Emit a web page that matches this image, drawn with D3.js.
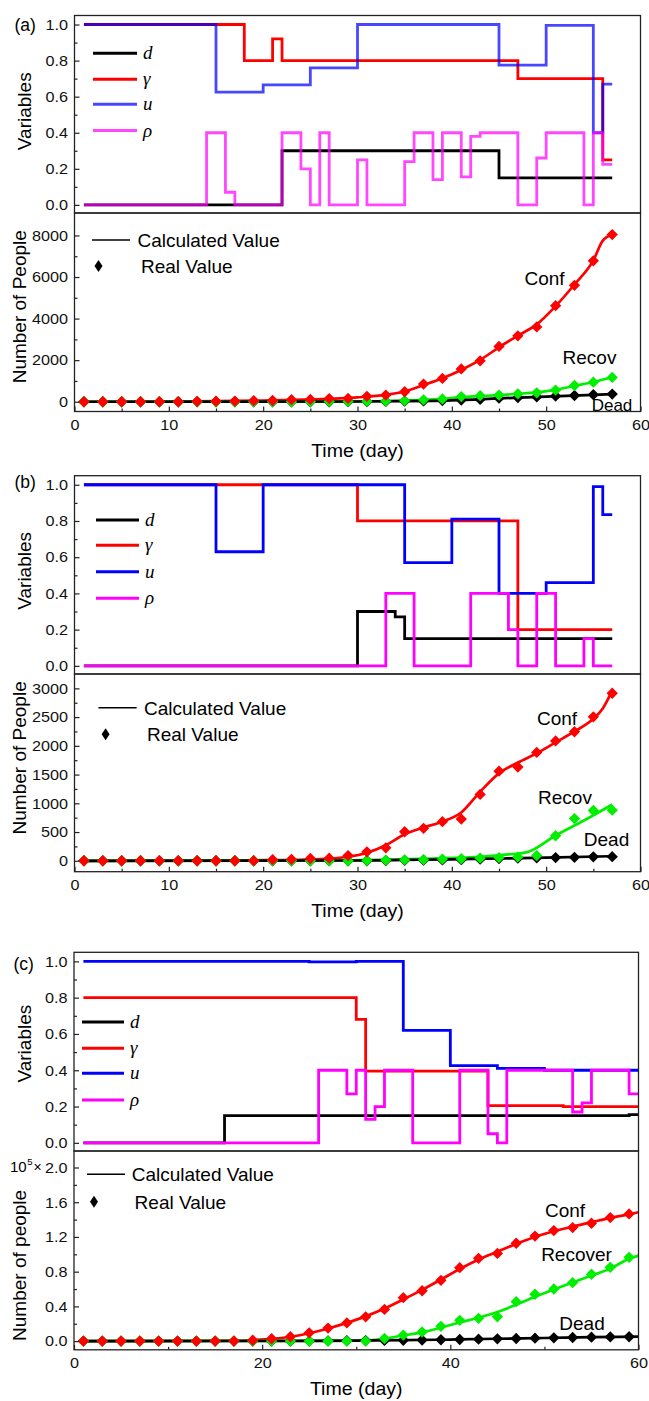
<!DOCTYPE html>
<html>
<head>
<meta charset="utf-8">
<script src="https://cdn.jsdelivr.net/npm/d3@7"></script>
<style>
  html, body { margin: 0; padding: 0; background: #fff; }
  svg { display: block; }
</style>
</head>
<body>
<svg id="fig" width="649" height="1401"></svg>
<script>
// ---------- control variables (step functions: [day, value], value holds until next day) ----------
const dA     = [[1,0],[22,0.3],[45,0.15],[57,0.15]];
const gammaA = [[1,1],[18,0.8],[21,0.92],[22,0.8],[47,0.7],[56,0.25],[57,0.25]];
const uA     = [[1,1],[15,0.625],[20,0.665],[25,0.76],[30,1],[45,0.775],[50,0.995],[55,0.4],[56,0.67],[57,0.67]];
const rhoA   = [[1,0],[14,0.4],[16,0.07],[17,0],[22,0.4],[24,0.2],[25,0],[26,0.4],[27,0],[30,0.25],[31,0],
                [35,0.24],[36,0.4],[38,0.14],[39,0.4],[41,0.155],[42,0.38],[43,0.4],[47,0],[49,0.26],[50,0.4],
                [54,0],[55,0.4],[56,0.225],[57,0.225]];

const dB     = [[1,0],[30,0.3],[34,0.27],[35,0.15],[57,0.15]];
const gammaB = [[1,1],[30,0.8],[47,0.2],[57,0.2]];
const uB     = [[1,1],[15,0.63],[20,1],[35,0.57],[40,0.81],[45,0.4],[50,0.46],[55,0.99],[56,0.835],[57,0.835]];
const rhoB   = [[1,0],[33,0.4],[36,0],[42,0.4],[46,0.2],[47,0],[49,0.4],[51,0],[54,0.15],[55,0],[57,0]];

const dC     = [[1,0],[16,0.15],[59,0.155],[60,0.155]];
const gammaC = [[1,0.8],[30,0.68],[31,0.395],[44,0.205],[52,0.2],[60,0.2]];
const uC     = [[1,1],[25,0.997],[30,1],[35,0.62],[40,0.425],[45,0.41],[50,0.4],[60,0.4]];
const rhoC   = [[1,0],[26,0.4],[29,0.27],[30,0.4],[31,0.13],[32,0.2],[33,0.4],[36,0],[41,0.4],[44,0.05],
                [45,0],[46,0.4],[53,0.17],[54,0.22],[55,0.4],[59,0.27],[60,0.27]];

// ---------- reported counts (every second day) ----------
const daysAB = [1,3,5,7,9,11,13,15,17,19,21,23,25,27,29,31,33,35,37,39,41,43,45,47,49,51,53,55,57];
const daysC  = [1,3,5,7,9,11,13,15,17,19,21,23,25,27,29,31,33,35,37,39,41,43,45,47,49,51,53,55,57,59];

const confA  = [0,0,0,0,0,0,20,25,30,50,60,100,110,150,160,260,320,480,850,1120,1580,1970,2660,3170,3600,4620,5600,6780,8040];
const recovA = [0,0,0,0,0,0,0,0,0,0,0,0,5,10,15,20,30,50,90,130,250,290,320,380,430,560,780,940,1170];
const deadA  = [0,0,0,0,0,0,0,0,0,0,0,0,0,0,5,10,15,25,40,60,80,110,170,200,230,270,300,340,370];

const confB  = [0,0,0,0,0,0,0,0,0,0,20,25,40,45,90,155,225,505,565,680,725,1155,1560,1630,1885,2085,2245,2505,2915];
const recovB = [0,0,0,0,0,0,0,0,0,0,0,0,0,0,0,5,10,15,20,30,35,45,55,65,90,435,735,875,880];
const deadB  = [0,0,0,0,0,0,0,0,0,0,0,0,0,0,0,0,5,8,10,15,20,28,38,45,50,55,60,68,72];

const confC  = [0,0,0,0,0,0,0,0,0,0.01,0.027,0.05,0.096,0.15,0.21,0.28,0.365,0.5,0.58,0.7,0.846,0.954,1.01,1.127,1.21,1.273,1.308,1.358,1.423,1.465];
const recovC = [0,0,0,0,0,0,0,0,0,0,0,0,0,0,0,0,0.03,0.07,0.105,0.17,0.24,0.262,0.28,0.454,0.54,0.6,0.673,0.77,0.85,0.965];
const deadC  = [0,0,0,0,0,0,0,0,0,0,0,0,0,0.002,0.004,0.006,0.008,0.01,0.013,0.016,0.019,0.022,0.026,0.03,0.034,0.038,0.042,0.045,0.048,0.05];

// ---------- model output: [day, value] ----------
const calcConfA  = [[1,0],[10,10],[20,60],[25,110],[30,210],[33,330],[35,490],[37,800],[39,1130],[41,1530],[43,2010],
                    [45,2620],[47,3180],[49,3720],[51,4600],[53,5640],[55,6800],[56,7750],[57,8040]];
const calcRecovA = [[1,0],[25,5],[30,20],[35,60],[37,90],[39,140],[41,220],[43,270],[45,320],[47,380],[49,450],
                    [51,570],[53,760],[55,950],[57,1180]];
const calcDeadA  = [[1,0],[30,10],[35,30],[40,70],[45,160],[50,250],[55,330],[57,370]];

const calcConfB  = [[1,0],[20,10],[27,40],[29,70],[31,140],[33,270],[35,460],[37,580],[39,680],[41,840],[43,1200],
                    [45,1520],[47,1710],[49,1870],[51,2060],[53,2250],[55,2470],[56,2650],[57,2960]];
const calcRecovB = [[1,0],[28,5],[33,20],[38,40],[43,70],[46,110],[48,150],[51,440],[54,700],[57,980]];
const calcDeadB  = [[1,0],[30,5],[35,15],[40,25],[45,40],[50,55],[57,80]];

const calcConfC  = [[1,0],[17,0.005],[19,0.012],[21,0.025],[23,0.05],[25,0.09],[27,0.145],[29,0.21],[31,0.285],
                    [33,0.375],[35,0.48],[37,0.59],[39,0.71],[41,0.83],[43,0.94],[45,1.03],[47,1.12],[49,1.2],
                    [51,1.265],[53,1.32],[55,1.37],[57,1.42],[59,1.46],[60,1.485]];
const calcRecovC = [[1,0],[31,0.005],[33,0.03],[35,0.065],[37,0.1],[39,0.155],[41,0.215],[43,0.27],[45,0.335],
                    [47,0.42],[49,0.51],[51,0.595],[53,0.675],[55,0.755],[57,0.835],[59,0.95],[60,0.985]];
const calcDeadC  = [[1,0],[25,0.002],[30,0.006],[35,0.011],[40,0.018],[45,0.027],[50,0.036],[55,0.045],[60,0.052]];

// ---------- tick values ----------
const varTicks      = [0, 0.2, 0.4, 0.6, 0.8, 1.0];
const varMinor      = [0.1, 0.3, 0.5, 0.7, 0.9];
const peopleTicksA  = [0, 2000, 4000, 6000, 8000];
const peopleMinorA  = [1000, 3000, 5000, 7000];
const peopleTicksB  = [0, 500, 1000, 1500, 2000, 2500, 3000];
const peopleMinorB  = [250, 750, 1250, 1750, 2250, 2750];
const peopleTicksC  = [0, 0.4, 0.8, 1.2, 1.6, 2.0];
const peopleMinorC  = [0.2, 0.6, 1.0, 1.4, 1.8];
const dayTicksAB    = [0, 10, 20, 30, 40, 50, 60];
const dayMinorAB    = [5, 15, 25, 35, 45, 55];
const dayTicksC     = [0, 20, 40, 60];
const dayMinorC     = [10, 30, 50];

const varNames = ['d', 'γ', 'u', 'ρ'];
const varColors = ['#000000', '#ff0000', '#0000ff', '#ff00ff'];
const GREEN = '#00ee00';

// ---------- drawing ----------
const SANS = '"Liberation Sans", Arial, Helvetica, sans-serif';
const SERIF = '"Liberation Serif", "Times New Roman", serif';
const svg = d3.select('#fig');
svg.append('rect').attr('width', 649).attr('height', 1401).attr('fill', '#fff');

function txt(g, x, y, s, o = {}) {
  const t = g.append('text')
    .attr('transform', `translate(${x},${y})` + (o.rot ? ` rotate(${o.rot})` : '') + (o.sx ? ` scale(${o.sx},1)` : ''))
    .attr('font-family', o.family || SANS)
    .attr('font-size', o.size || 19)
    .attr('text-anchor', o.anchor || 'start')
    .attr('fill', '#000')
    .text(s);
  if (o.italic) t.attr('font-style', 'italic');
  return t;
}

function styleAxis(ax) {
  ax.select('.domain').remove();
  ax.attr('font-family', null).attr('font-size', null);
  ax.selectAll('line').attr('stroke', '#222').attr('stroke-width', 1.2);
  ax.selectAll('text').attr('font-family', SANS).attr('font-size', 15).attr('fill', '#111')
    .attr('transform', 'scale(1.08,1)');
}

function leftAxis(g, scale, x0, major, minor, fmt) {
  const ax = g.append('g').attr('transform', `translate(${x0},0)`)
    .call(d3.axisLeft(scale).tickValues(major).tickFormat(fmt).tickSizeInner(-5).tickSizeOuter(0).tickPadding(6));
  styleAxis(ax);
  const mn = g.append('g').attr('transform', `translate(${x0},0)`)
    .call(d3.axisLeft(scale).tickValues(minor).tickFormat('').tickSizeInner(-3).tickSizeOuter(0));
  styleAxis(mn);
}

function bottomAxis(g, scale, y0, major, minor) {
  const ax = g.append('g').attr('transform', `translate(0,${y0})`)
    .call(d3.axisBottom(scale).tickValues(major).tickFormat(d3.format('d')).tickSizeInner(-5).tickSizeOuter(0).tickPadding(8));
  styleAxis(ax);
  const mn = g.append('g').attr('transform', `translate(0,${y0})`)
    .call(d3.axisBottom(scale).tickValues(minor).tickFormat('').tickSizeInner(-3).tickSizeOuter(0));
  styleAxis(mn);
}

const diamond = d3.symbol().type(d3.symbolSquare).size(64);

function drawPanel(p) {
  const g = svg.append('g');
  const x = d3.scaleLinear().domain([0, 60]).range([p.left, p.right]);
  const yT = d3.scaleLinear().domain([-0.045, 1.05]).range([p.mid, p.top]);
  const yB = d3.scaleLinear().domain(p.botDomain).range([p.bot, p.mid]);

  // upper plot: step-wise control variables
  const step = d3.line().x(d => x(d[0])).y(d => yT(d[1])).curve(d3.curveStepAfter);
  p.steps.forEach((s, i) => {
    g.append('path').datum(s).attr('d', step).attr('fill', 'none')
      .attr('stroke', varColors[i]).attr('stroke-width', 2.8)
      .attr('stroke-opacity', p.alpha[i]);
  });
  // legend of the upper plot
  varNames.forEach((n, i) => {
    const yy = p.legTop.rows[i];
    g.append('line').attr('x1', p.legTop.x1).attr('x2', p.legTop.x2).attr('y1', yy).attr('y2', yy)
      .attr('stroke', varColors[i]).attr('stroke-width', 3).attr('stroke-opacity', p.alpha[i]);
    txt(g, p.legTop.tx, yy + 6, n, { family: SERIF, italic: true, size: 19 });
  });

  // lower plot: model curves and reported counts
  const curve = d3.line().x(d => x(d[0])).y(d => yB(d[1])).curve(d3.curveMonotoneX);
  [[p.calc[0], '#ff0000'], [p.calc[1], GREEN], [p.calc[2], '#000000']].forEach(([c, col]) => {
    g.append('path').datum(c).attr('d', curve).attr('fill', 'none')
      .attr('stroke', col).attr('stroke-width', 2.7);
  });
  [[p.real[2], '#000000'], [p.real[1], GREEN], [p.real[0], '#ff0000']].forEach(([vals, col]) => {
    g.append('g').selectAll('path').data(vals).join('path')
      .attr('d', diamond)
      .attr('transform', (v, i) => `translate(${x(p.days[i])},${yB(v)}) rotate(45)`)
      .attr('fill', col);
  });
  // legend of the lower plot
  const L = p.legBot;
  g.append('line').attr('x1', L.x1).attr('x2', L.x2).attr('y1', L.y1).attr('y2', L.y1)
    .attr('stroke', '#000').attr('stroke-width', 1.6);
  txt(g, L.t1, L.y1 + 6.8, 'Calculated Value');
  g.append('path').attr('d', `M0,-6L4,0L0,6L-4,0Z`).attr('transform', `translate(${L.dx},${L.y2})`).attr('fill', '#000');
  txt(g, L.t2, L.y2 + 6.8, 'Real Value');

  // curve names
  p.names.forEach(n => txt(g, n.x, n.y, n.s, { anchor: 'middle', size: n.size || 19 }));

  // axes
  leftAxis(g, yT, p.left, varTicks, varMinor, d3.format('.1f'));
  leftAxis(g, yB, p.left, p.botTicks, p.botMinor, p.botFmt);
  bottomAxis(g, x, p.bot, p.xTicks, p.xMinor);

  // frames
  g.append('rect').attr('x', p.left).attr('y', p.top).attr('width', p.right - p.left).attr('height', p.mid - p.top)
    .attr('fill', 'none').attr('stroke', '#222').attr('stroke-width', 1.3);
  g.append('rect').attr('x', p.left).attr('y', p.mid).attr('width', p.right - p.left).attr('height', p.bot - p.mid)
    .attr('fill', 'none').attr('stroke', '#222').attr('stroke-width', 1.3);

  // titles
  txt(g, p.tagX, p.tagY, p.tag, { size: 17.5 });
  txt(g, 31, (p.top + p.mid) / 2 + p.varShift, 'Variables', { rot: -90, anchor: 'middle' });
  txt(g, 26, (p.mid + p.bot) / 2 + p.numShift, p.yTitle, { rot: -90, anchor: 'middle' });
  txt(g, (p.left + p.right) / 2, p.bot + 45, 'Time (day)', { anchor: 'middle', sx: 1.03 });
  return { g, yB };
}

drawPanel({
  tag: '(a)', tagX: 14.5, tagY: 31,
  top: 15.5, mid: 213, bot: 411.5, left: 74.5, right: 640.5,
  botDomain: [-470, 9080], botTicks: peopleTicksA, botMinor: peopleMinorA, botFmt: d3.format('d'),
  xTicks: dayTicksAB, xMinor: dayMinorAB,
  steps: [dA, gammaA, uA, rhoA], alpha: [1, 1, 0.72, 0.72],
  legTop: { x1: 93, x2: 137, tx: 143, rows: [53.3, 79.3, 104.3, 130.5] },
  calc: [calcConfA, calcRecovA, calcDeadA], real: [confA, recovA, deadA], days: daysAB,
  legBot: { x1: 92, x2: 130, t1: 137.5, y1: 240, dx: 98.5, y2: 266, t2: 141 },
  names: [{ s: 'Conf', x: 544.5, y: 284.8 }, { s: 'Recov', x: 589.5, y: 363.8 }, { s: 'Dead', x: 612, y: 411, size: 17 }],
  yTitle: 'Number of People', varShift: -3, numShift: -5.5
});

drawPanel({
  tag: '(b)', tagX: 14.5, tagY: 488,
  top: 475.7, mid: 674, bot: 871.7, left: 74.5, right: 640.5,
  botDomain: [-190, 3250], botTicks: peopleTicksB, botMinor: peopleMinorB, botFmt: d3.format('d'),
  xTicks: dayTicksAB, xMinor: dayMinorAB,
  steps: [dB, gammaB, uB, rhoB], alpha: [1, 1, 1, 1],
  legTop: { x1: 96, x2: 139, tx: 145, rows: [520, 545.3, 571.7, 598.3] },
  calc: [calcConfB, calcRecovB, calcDeadB], real: [confB, recovB, deadB], days: daysAB,
  legBot: { x1: 98.5, x2: 136.6, t1: 144, y1: 707.7, dx: 105.6, y2: 734.3, t2: 147 },
  names: [{ s: 'Conf', x: 557, y: 725 }, { s: 'Recov', x: 565, y: 803.5 }, { s: 'Dead', x: 606.5, y: 845.8 }],
  yTitle: 'Number of People', varShift: -4, numShift: -15
});

const pc = drawPanel({
  tag: '(c)', tagX: 13.5, tagY: 969.5,
  top: 952.3, mid: 1151, bot: 1349.8, left: 74, right: 638.5,
  botDomain: [-0.1, 2.19], botTicks: peopleTicksC, botMinor: peopleMinorC, botFmt: d3.format('.1f'),
  xTicks: dayTicksC, xMinor: dayMinorC,
  steps: [dC, gammaC, uC, rhoC], alpha: [1, 1, 1, 1],
  legTop: { x1: 82, x2: 124, tx: 130, rows: [1022, 1048.3, 1073.3, 1100] },
  calc: [calcConfC, calcRecovC, calcDeadC], real: [confC, recovC, deadC], days: daysC,
  legBot: { x1: 87, x2: 125, t1: 131.7, y1: 1174.3, dx: 94, y2: 1201.7, t2: 134.6 },
  names: [{ s: 'Conf', x: 565, y: 1216.8 }, { s: 'Recover', x: 576.5, y: 1260.8 }, { s: 'Dead', x: 582, y: 1329.5 }],
  yTitle: 'Number of people', varShift: -8, numShift: 15
});

// scale factor written beside the top tick of panel (c)
const yTopC = pc.yB(2.0) + 4.8;
txt(pc.g, 10, yTopC, '10', { size: 15, sx: 1.0 });
txt(pc.g, 27.2, yTopC - 7, '5', { size: 9.5 });
txt(pc.g, 33.5, yTopC, '×', { size: 14 });
</script>
</body>
</html>
